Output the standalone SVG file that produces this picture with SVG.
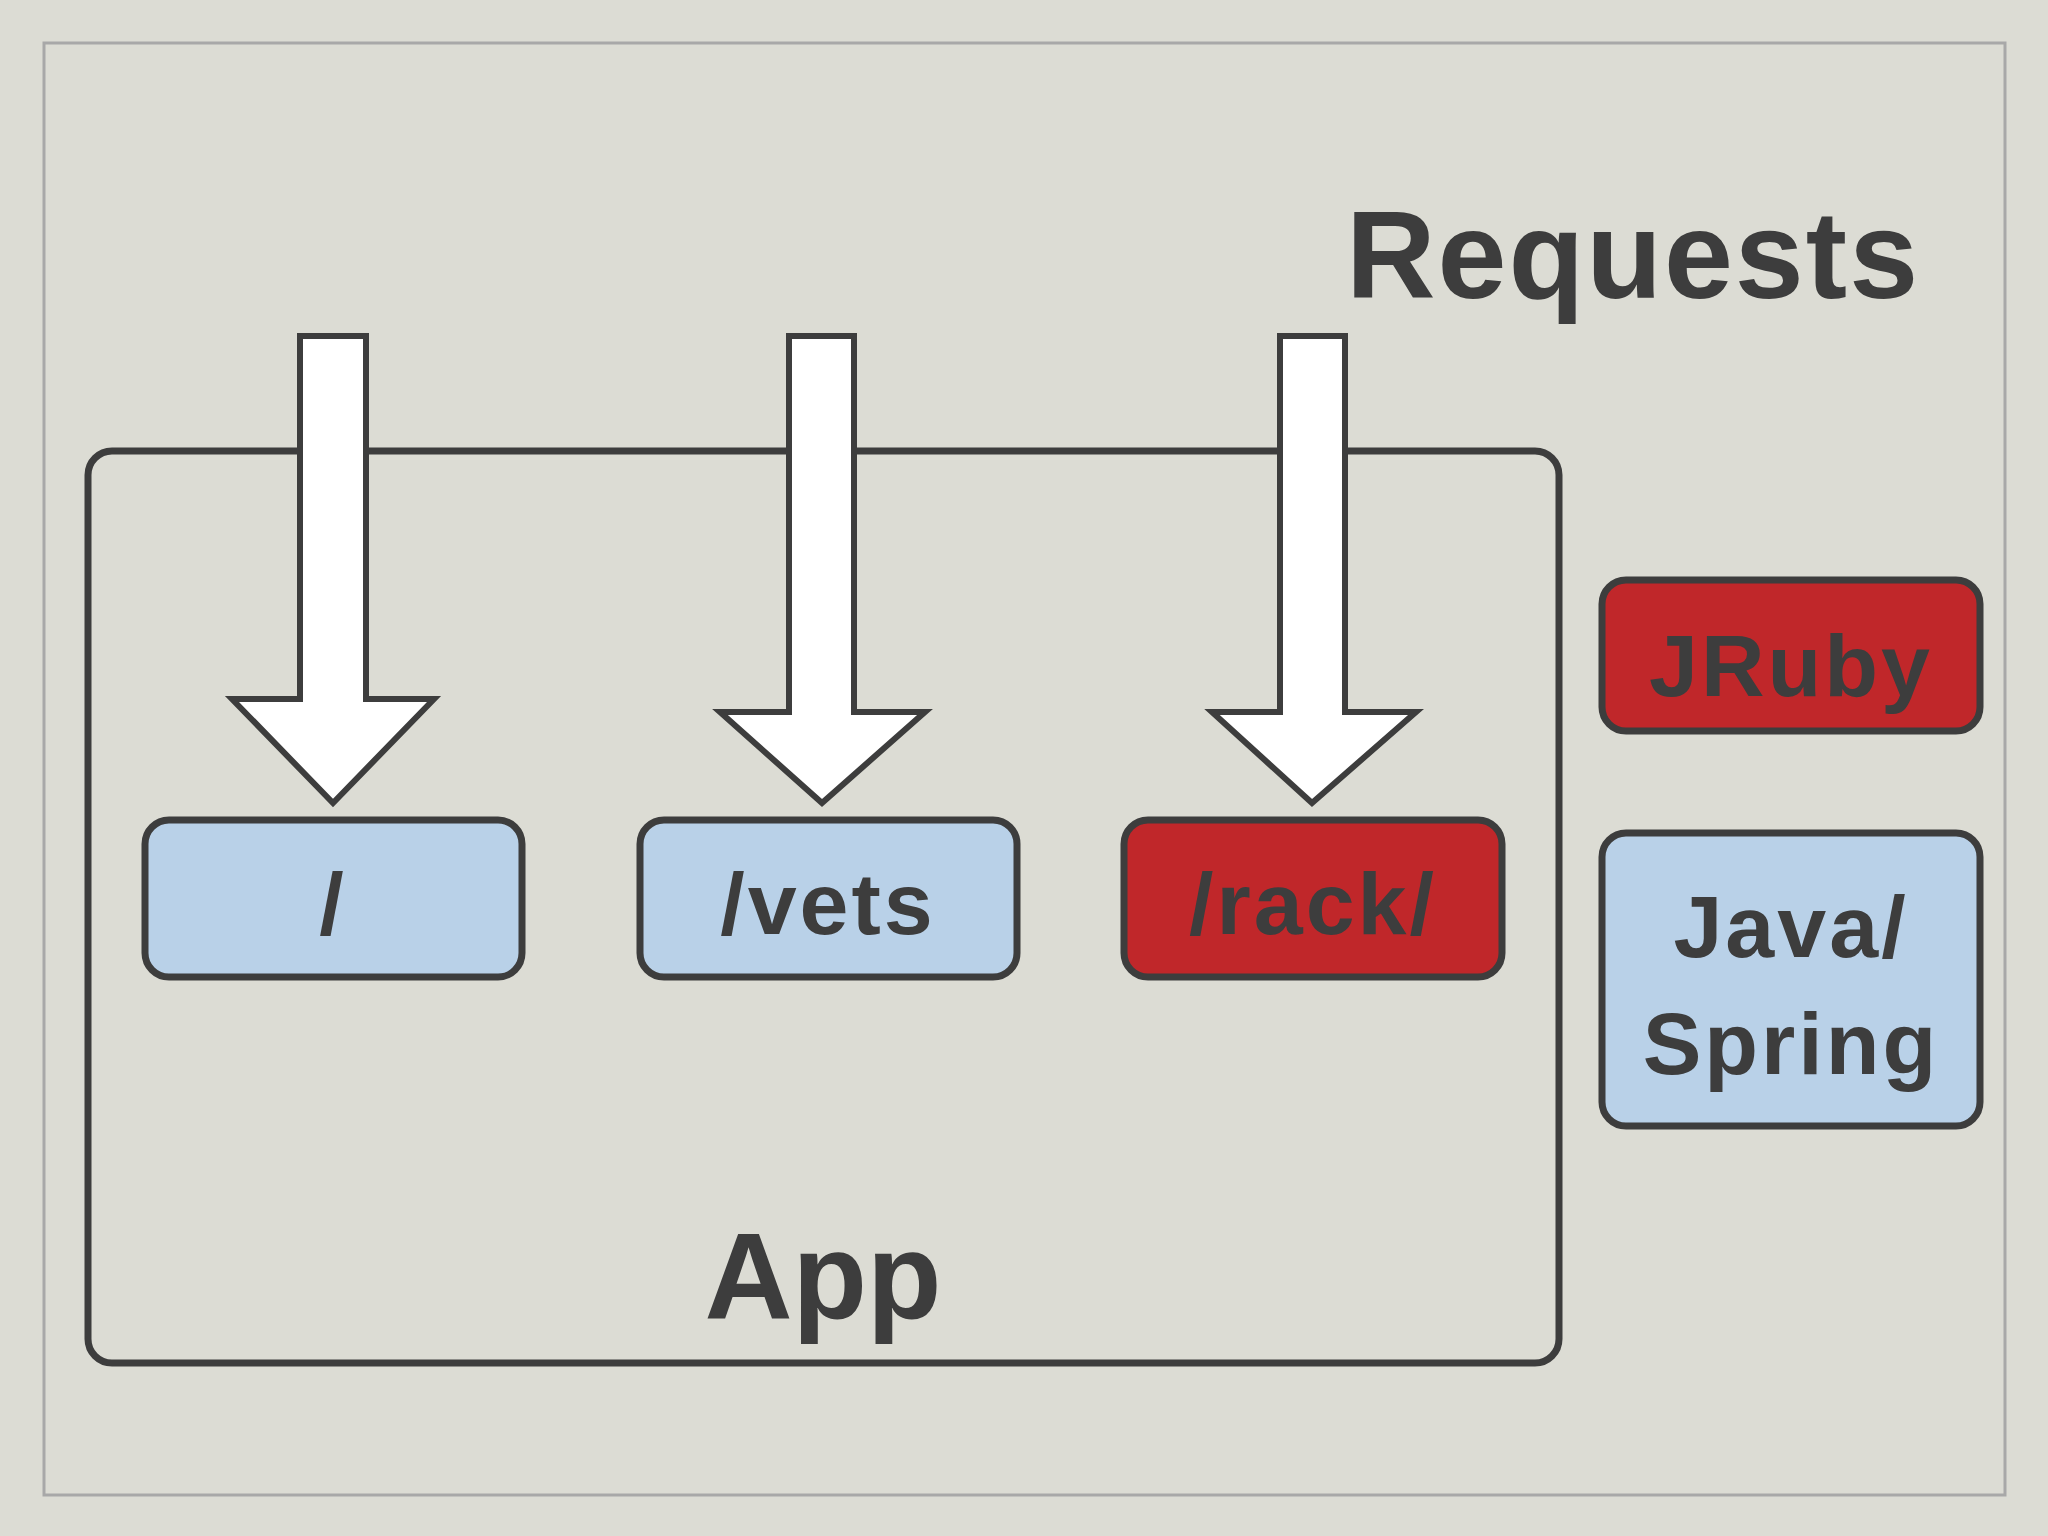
<svg xmlns="http://www.w3.org/2000/svg" width="2048" height="1536" viewBox="0 0 2048 1536">
<style>
.t{font-family:"Liberation Sans",Arial,sans-serif;font-weight:bold;fill:#3d3d3d;text-anchor:middle}
.b{font-size:88px;letter-spacing:3px}
.box{stroke:#3d3d3d;stroke-width:7}
.blue{fill:#b9d1e8}
.red{fill:#c0272a}
.arr{fill:#ffffff;stroke:#3d3d3d;stroke-width:6;stroke-linejoin:miter}
</style>
<rect width="2048" height="1536" fill="#dcdcd4"/>
<rect x="44" y="43" width="1961" height="1452" fill="none" stroke="#a8a8a8" stroke-width="3"/>
<g id="app"><rect x="88" y="451" width="1471" height="912" rx="24" fill="none" class="box"/>
<text class="t" x="823" y="1319" font-size="122">App</text></g>
<text id="requests" class="t" x="1633" y="298" font-size="124" letter-spacing="2">Requests</text>
<g id="connectors">
<polygon class="arr" points="300,336 366,336 366,699 434,699 333,803 232,699 300,699"/>
<polygon class="arr" points="789,336 854,336 854,712 925,712 822,803 720,712 789,712"/>
<polygon class="arr" points="1280,336 1345,336 1345,712 1416,712 1312,803 1212,712 1280,712"/>
</g>
<g id="root"><rect x="145" y="820" width="377" height="157" rx="24" class="box blue"/><text class="t b" x="333" y="934">/</text></g>
<g id="vets"><rect x="640" y="820" width="377" height="157" rx="24" class="box blue"/><text class="t b" x="828" y="934">/vets</text></g>
<g id="rack"><rect x="1124" y="820" width="378" height="157" rx="24" class="box red"/><text class="t b" x="1313" y="934">/rack/</text></g>
<g id="jruby"><rect x="1602" y="580" width="378" height="151" rx="24" class="box red"/><text class="t b" x="1791" y="696">JRuby</text></g>
<g id="java"><rect x="1602" y="833" width="378" height="293" rx="24" class="box blue"/><text class="t b" x="1791" y="957">Java/</text><text class="t b" x="1791" y="1074">Spring</text></g>
</svg>
